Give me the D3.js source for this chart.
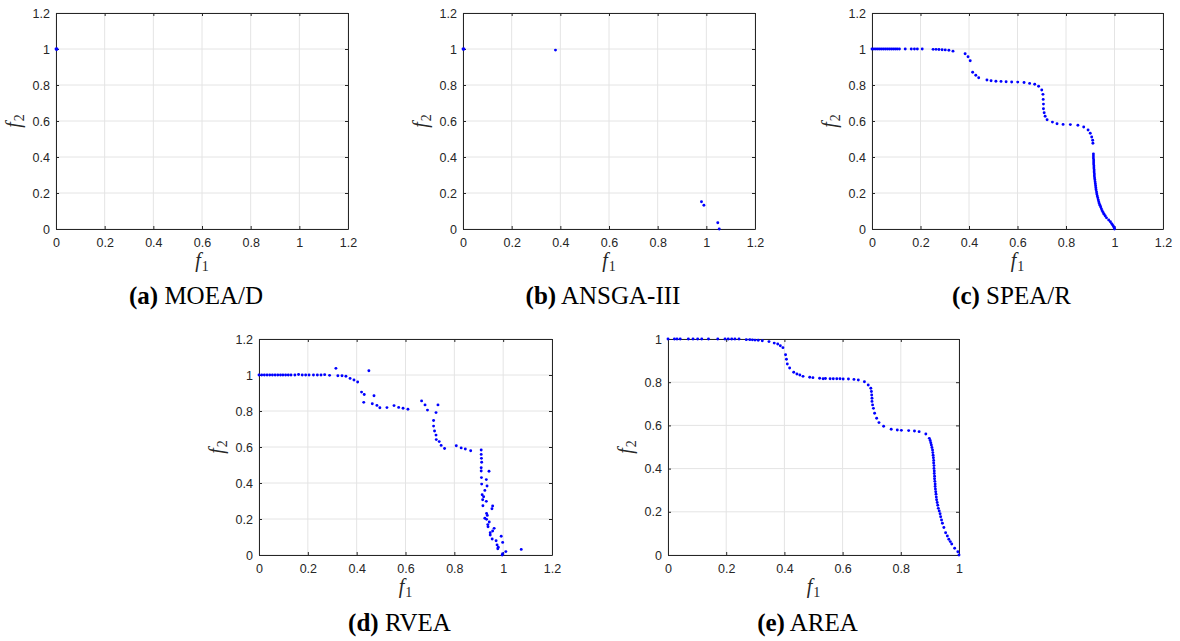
<!DOCTYPE html>
<meta charset="utf-8">
<script src="https://d3js.org/d3.v7.min.js"></script>
<style>
  body { margin: 0; background: #fff; }
</style>
<div id="my_dataviz"></div>
<script>

// Pareto fronts, [f1, f2] pairs
var moead = [[0, 1], [0.002, 0.998], [0.004, 1], [0.003, 0.999]]

var ansga3 = [[0, 1], [0.002, 0.998], [0.004, 1], [0.38, 0.994], [0.98, 0.151], [0.99, 0.132], [1.047, 0.035], [1.053, 0.0]]

var spear = [
  [0, 1], [0.008, 1], [0.016, 1], [0.024, 1], [0.032, 1], [0.040, 1], [0.048, 1], [0.056, 1],
  [0.064, 1], [0.072, 1], [0.080, 1], [0.088, 1], [0.096, 1], [0.104, 1], [0.113, 1],
  [0.137, 1], [0.162, 1], [0.175, 1], [0.187, 1], [0.207, 1],
  [0.252, 0.998], [0.264, 0.998], [0.276, 0.997], [0.289, 0.996], [0.302, 0.995], [0.317, 0.993], [0.334, 0.988],
  [0.384, 0.974], [0.396, 0.957], [0.405, 0.935], [0.415, 0.871], [0.428, 0.854], [0.44, 0.84],
  [0.474, 0.828], [0.491, 0.824], [0.511, 0.821], [0.532, 0.82], [0.553, 0.818], [0.576, 0.817],
  [0.601, 0.816], [0.627, 0.814], [0.65, 0.809], [0.671, 0.804], [0.687, 0.793], [0.7, 0.772],
  [0.705, 0.748], [0.706, 0.72], [0.707, 0.694], [0.707, 0.668], [0.71, 0.646], [0.714, 0.626],
  [0.722, 0.607], [0.744, 0.594], [0.763, 0.585], [0.788, 0.581], [0.818, 0.58], [0.849, 0.576],
  [0.873, 0.567], [0.891, 0.55], [0.9, 0.532], [0.906, 0.511], [0.91, 0.493], [0.911, 0.476],
  [0.913, 0.417], [0.913, 0.405], [0.913, 0.394], [0.914, 0.383], [0.914, 0.372], [0.914, 0.361],
  [0.915, 0.350], [0.915, 0.339], [0.916, 0.328], [0.916, 0.317], [0.917, 0.306], [0.917, 0.295],
  [0.918, 0.284], [0.919, 0.273], [0.920, 0.262], [0.921, 0.251], [0.922, 0.240], [0.923, 0.229],
  [0.924, 0.218], [0.926, 0.206], [0.927, 0.195], [0.929, 0.184], [0.931, 0.173], [0.933, 0.162],
  [0.935, 0.152], [0.937, 0.142], [0.940, 0.132], [0.943, 0.122], [0.946, 0.112], [0.949, 0.102],
  [0.953, 0.092], [0.957, 0.082], [0.962, 0.072], [0.967, 0.062], [0.976, 0.050], [0.983, 0.040],
  [0.988, 0.030], [0.992, 0.022], [0.996, 0.014], [0.999, 0.007], [1.0, 0.0]
]

var rvea = [
  [0, 1], [0.011, 1], [0.022, 1], [0.033, 1], [0.044, 1], [0.055, 1], [0.066, 1], [0.077, 1],
  [0.088, 1], [0.098, 1], [0.109, 1], [0.12, 1], [0.131, 1], [0.147, 1], [0.162, 1.003], [0.177, 1],
  [0.191, 1], [0.205, 1], [0.223, 1], [0.239, 1], [0.254, 1], [0.269, 1.002], [0.289, 0.998],
  [0.315, 1.037], [0.323, 0.996], [0.34, 0.996], [0.356, 0.993], [0.373, 0.981], [0.389, 0.972],
  [0.404, 0.961], [0.45, 1.024], [0.42, 0.905], [0.431, 0.892], [0.429, 0.848], [0.471, 0.885],
  [0.464, 0.84], [0.483, 0.831], [0.495, 0.818], [0.524, 0.819], [0.553, 0.83], [0.572, 0.82],
  [0.59, 0.815], [0.61, 0.81], [0.666, 0.856], [0.68, 0.834], [0.69, 0.805], [0.733, 0.834],
  [0.725, 0.791], [0.715, 0.747], [0.715, 0.716], [0.719, 0.689], [0.725, 0.666], [0.726, 0.641],
  [0.738, 0.63], [0.746, 0.609], [0.76, 0.592], [0.808, 0.607], [0.828, 0.595], [0.845, 0.589],
  [0.867, 0.579],
  [0.91, 0.583], [0.91, 0.559], [0.911, 0.537], [0.912, 0.515], [0.91, 0.485], [0.91, 0.467],
  [0.942, 0.465], [0.911, 0.43], [0.931, 0.419], [0.912, 0.394], [0.934, 0.383], [0.925, 0.359],
  [0.914, 0.335], [0.92, 0.324], [0.916, 0.307], [0.931, 0.298], [0.917, 0.274], [0.957, 0.272],
  [0.954, 0.257], [0.932, 0.231], [0.935, 0.22], [0.925, 0.204], [0.932, 0.198], [0.943, 0.183],
  [0.937, 0.169], [0.938, 0.157], [0.963, 0.148], [0.957, 0.133], [0.947, 0.124], [0.947, 0.111],
  [0.955, 0.089], [0.992, 0.104], [0.971, 0.079], [0.998, 0.07], [0.975, 0.056], [0.98, 0.043],
  [0.978, 0.035], [1.011, 0.019], [0.998, 0.007], [0.996, 0], [1.074, 0.031]
]

var area = [
  [0, 1], [0.022, 1], [0.031, 1], [0.042, 1], [0.07, 1], [0.086, 1], [0.102, 1], [0.116, 1],
  [0.139, 1], [0.171, 1], [0.196, 1], [0.207, 1], [0.219, 1], [0.23, 1], [0.244, 1],
  [0.269, 0.997], [0.281, 0.997], [0.29, 0.996], [0.299, 0.995], [0.31, 0.994], [0.324, 0.992],
  [0.347, 0.988], [0.365, 0.981], [0.377, 0.977], [0.386, 0.969], [0.395, 0.96], [0.404, 0.927],
  [0.407, 0.906], [0.41, 0.884], [0.418, 0.866], [0.432, 0.846], [0.443, 0.838], [0.453, 0.833],
  [0.464, 0.827], [0.487, 0.823], [0.498, 0.821], [0.521, 0.818], [0.533, 0.816], [0.541, 0.817],
  [0.557, 0.816], [0.568, 0.816], [0.58, 0.816], [0.591, 0.816], [0.602, 0.815], [0.62, 0.815],
  [0.639, 0.813], [0.654, 0.81], [0.675, 0.802], [0.688, 0.787],
  [0.697, 0.772], [0.699, 0.757], [0.700, 0.741], [0.701, 0.726], [0.701, 0.711], [0.703, 0.695],
  [0.706, 0.679], [0.71, 0.656], [0.717, 0.633], [0.725, 0.613], [0.741, 0.596], [0.767, 0.582],
  [0.788, 0.579], [0.802, 0.577], [0.827, 0.576], [0.847, 0.574], [0.863, 0.571], [0.886, 0.56],
  [0.898, 0.540], [0.901, 0.530], [0.903, 0.520], [0.905, 0.509], [0.907, 0.498], [0.909, 0.486],
  [0.910, 0.474], [0.911, 0.462], [0.912, 0.450], [0.913, 0.438], [0.913, 0.426], [0.914, 0.414],
  [0.914, 0.401], [0.915, 0.389], [0.915, 0.377], [0.916, 0.365], [0.916, 0.353], [0.917, 0.341],
  [0.918, 0.329], [0.918, 0.317], [0.919, 0.305], [0.920, 0.293], [0.921, 0.281], [0.922, 0.268],
  [0.923, 0.256], [0.925, 0.243], [0.927, 0.230], [0.929, 0.216], [0.932, 0.204], [0.935, 0.191],
  [0.937, 0.177], [0.940, 0.162], [0.943, 0.147], [0.948, 0.127], [0.954, 0.103], [0.960, 0.088],
  [0.965, 0.073], [0.970, 0.062], [0.975, 0.051], [0.985, 0.031], [0.996, 0.015], [1.0, 0.0]
]

var ticksWide = [0, 0.2, 0.4, 0.6, 0.8, 1, 1.2]
var ticksUnit = [0, 0.2, 0.4, 0.6, 0.8, 1]

var tags = ["(a)", "(b)", "(c)", "(d)", "(e)"]
var names = ["MOEA/D", "ANSGA-III", "SPEA/R", "RVEA", "AREA"]

// where each subplot sits on the page
var panels = [
  {pts: moead,  ticks: ticksWide, max: 1.2, left: 56,  top: 13,  w: 292},
  {pts: ansga3, ticks: ticksWide, max: 1.2, left: 463, top: 13,  w: 292},
  {pts: spear,  ticks: ticksWide, max: 1.2, left: 872, top: 13,  w: 291},
  {pts: rvea,   ticks: ticksWide, max: 1.2, left: 259, top: 339, w: 293},
  {pts: area,   ticks: ticksUnit, max: 1,   left: 668, top: 339, w: 291}
]
var ph = 216

var svg = d3.select("#my_dataviz")
  .append("svg")
    .attr("width", 1180)
    .attr("height", 641)

var fmt = d3.format("~g")

panels.forEach(function(p, i) {
  var pw = p.w
  var g = svg.append("g")
    .attr("transform", "translate(" + p.left + "," + p.top + ")")

  var x = d3.scaleLinear().domain([0, p.max]).range([0, pw])
  var y = d3.scaleLinear().domain([0, p.max]).range([ph, 0])

  // grid lines
  g.append("g").selectAll("line").data(p.ticks).enter().append("line")
    .attr("x1", function(d) { return x(d) }).attr("x2", function(d) { return x(d) })
    .attr("y1", 0).attr("y2", ph)
    .attr("stroke", "#e4e4e4").attr("stroke-width", 1)
  g.append("g").selectAll("line").data(p.ticks).enter().append("line")
    .attr("y1", function(d) { return y(d) }).attr("y2", function(d) { return y(d) })
    .attr("x1", 0).attr("x2", pw)
    .attr("stroke", "#e4e4e4").attr("stroke-width", 1)

  // box with inward ticks on all sides
  var axes = [
    g.append("g").attr("transform", "translate(0," + ph + ")")
      .call(d3.axisBottom(x).tickValues(p.ticks).tickSize(-3).tickSizeOuter(0).tickPadding(9).tickFormat(fmt)),
    g.append("g")
      .call(d3.axisLeft(y).tickValues(p.ticks).tickSize(-3).tickSizeOuter(0).tickPadding(6).tickFormat(fmt)),
    g.append("g")
      .call(d3.axisTop(x).tickValues(p.ticks).tickSize(-3).tickSizeOuter(0).tickFormat("")),
    g.append("g").attr("transform", "translate(" + pw + ",0)")
      .call(d3.axisRight(y).tickValues(p.ticks).tickSize(-3).tickSizeOuter(0).tickFormat(""))
  ]
  axes.forEach(function(a) {
    a.attr("font-family", "'Liberation Sans', Arial, sans-serif").attr("font-size", 12.5)
    a.selectAll("path, line").attr("stroke", "#262626")
    a.selectAll("text").attr("fill", "#262626")
  })

  // points
  g.append("g").selectAll("circle").data(p.pts).enter().append("circle")
    .attr("cx", function(d) { return x(d[0]) })
    .attr("cy", function(d) { return y(d[1]) })
    .attr("r", 1.45)
    .attr("fill", "#0000ff")

  // axis labels
  var xl = g.append("text")
    .attr("x", pw / 2).attr("y", ph + 38)
    .attr("text-anchor", "middle")
    .attr("font-family", "'Liberation Serif', 'Times New Roman', serif")
    .attr("font-size", 20)
    .attr("fill", "#262626")
  xl.append("tspan").attr("font-style", "italic").text("f")
  xl.append("tspan").attr("font-size", 14).attr("dy", 4).attr("dx", 1).text("1")

  var yl = g.append("text")
    .attr("transform", "translate(-36," + (ph / 2) + ") rotate(-90)")
    .attr("text-anchor", "middle")
    .attr("font-family", "'Liberation Serif', 'Times New Roman', serif")
    .attr("font-size", 20)
    .attr("fill", "#262626")
  yl.append("tspan").attr("font-style", "italic").text("f")
  yl.append("tspan").attr("font-size", 14).attr("dy", 4).attr("dx", 1).text("2")

  // caption
  var cap = g.append("text")
    .attr("x", pw / 2 - 6).attr("y", ph + 75 + (i > 2 ? 1 : 0))
    .attr("text-anchor", "middle")
    .attr("font-family", "'Liberation Serif', 'Times New Roman', serif")
    .attr("font-size", 25)
  cap.append("tspan").attr("font-weight", "bold").text(tags[i])
  cap.append("tspan").text(" " + names[i])
})

</script>
